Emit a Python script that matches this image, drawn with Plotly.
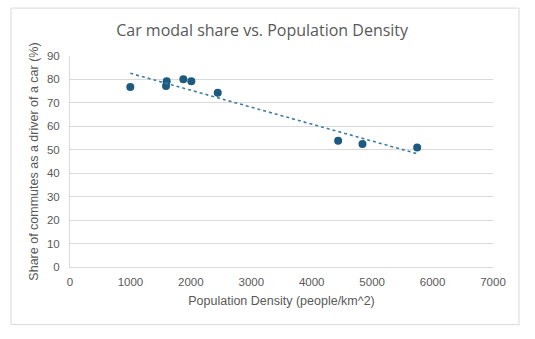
import numpy as np
import plotly.graph_objects as go

# Population density (people/km^2) and share of commutes driven by car (%)
density = [998, 1589, 1600, 1876, 2008, 2445, 4437, 4840, 5745]
car_share = [76.8, 77.2, 79.2, 80.1, 79.2, 74.3, 53.8, 52.5, 51.0]

x_ticks = [0, 1000, 2000, 3000, 4000, 5000, 6000, 7000]
y_ticks = [0, 10, 20, 30, 40, 50, 60, 70, 80, 90]

MARK = "#1C5A80"
GRID = "#D9D9D9"
TEXT = "#595959"

# Linear trendline over the observed density range
slope, intercept = np.polyfit(density, car_share, 1)
trend_x = np.array([min(density), max(density)])
trend_y = slope * trend_x + intercept

fig = go.Figure()
fig.add_trace(go.Scatter(
    x=density, y=car_share, mode="markers",
    marker=dict(color=MARK, size=8, line=dict(width=0)),
    showlegend=False, hoverinfo="x+y",
))
fig.add_trace(go.Scatter(
    x=trend_x, y=trend_y, mode="lines",
    line=dict(color="#3E7CA6", width=1.6, dash="dot"),
    showlegend=False, hoverinfo="skip",
))

# Chart frame
fig.add_shape(type="rect", xref="paper", yref="paper",
              x0=-0.1395, x1=1.0615, y0=-0.273, y1=1.227,
              line=dict(color=GRID, width=1), fillcolor="rgba(0,0,0,0)",
              layer="below")

fig.update_layout(
    width=535, height=339,
    margin=dict(l=70, r=42, t=56, b=72),
    paper_bgcolor="white", plot_bgcolor="white",
    title=dict(text="Car modal share vs. Population Density",
               x=0.49, xanchor="center", y=0.909, yanchor="middle",
               font=dict(family="Open Sans", size=16, color=TEXT)),
    font=dict(family="Liberation Sans, Arial", size=11.5, color=TEXT),
    xaxis=dict(range=[0, 7000], tickvals=x_ticks,
               ticktext=[str(v) for v in x_ticks],
               showgrid=False, zeroline=False,
               showline=True, linecolor=GRID, linewidth=1,
               ticks="", ticklabelstandoff=4,
               title=dict(text="Population Density (people/km^2)",
                          standoff=9, font=dict(size=12.5, color=TEXT))),
    yaxis=dict(range=[0, 90], tickvals=y_ticks,
               ticktext=[str(v) for v in y_ticks],
               showgrid=True, gridcolor=GRID, gridwidth=1, zeroline=False,
               showline=True, linecolor=GRID, linewidth=1,
               ticks="", ticklabelstandoff=7,
               title=dict(text="Share of commutes as a driver of a car (%)",
                          standoff=5, font=dict(size=12.5, color=TEXT))),
)

fig.write_html("out.html", config={"displayModeBar": False})
